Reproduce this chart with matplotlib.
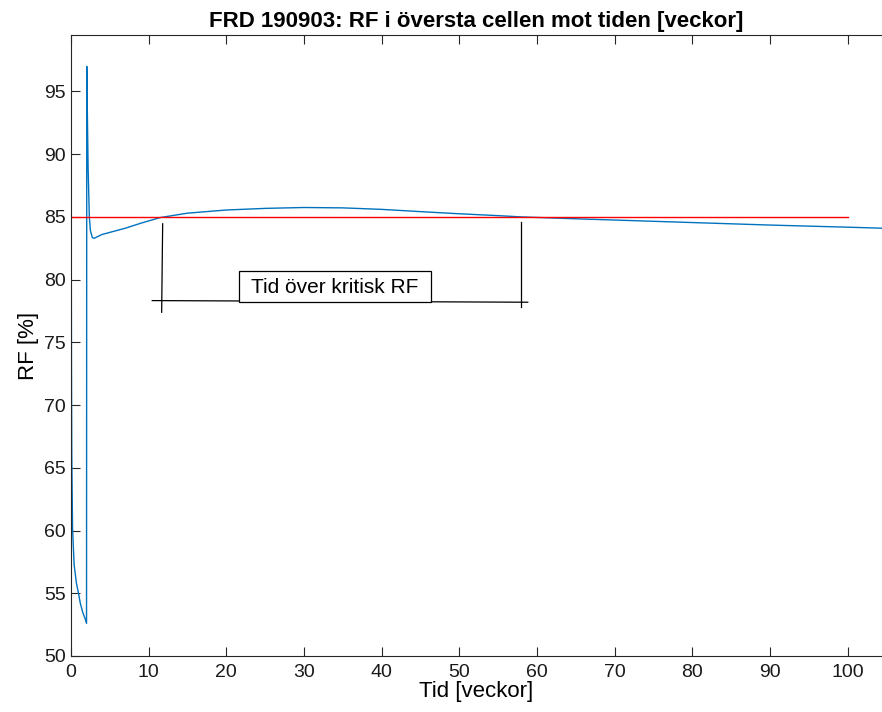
import numpy as np
import matplotlib
matplotlib.use("Agg")
import matplotlib.pyplot as plt
from matplotlib.patches import Rectangle

plt.rcParams['font.family'] = ['Liberation Sans', 'DejaVu Sans']

# RF in the top cell
tid = [0, 0.03, 0.06, 0.1, 0.2, 0.4, 0.7, 0.9, 1.2, 1.5, 1.8, 2.0,
       2.03, 2.1, 2.2, 2.36, 2.5, 2.75, 3.0, 4, 5.5, 7, 9, 11.5, 15, 20,
       25, 30, 35, 40, 45, 50, 55, 58, 65, 70, 80, 90, 100, 104.4]
rf = [96, 84, 73, 66, 60.2, 57.3, 55.8, 55.2, 54.2, 53.5, 53.0, 52.6,
      97, 93.5, 89, 85, 83.9, 83.35, 83.3, 83.6, 83.85, 84.1, 84.5, 84.95, 85.3, 85.55,
      85.68, 85.75, 85.72, 85.6, 85.42, 85.25, 85.1, 85.0, 84.85, 84.75, 84.55, 84.35, 84.18, 84.1]

kritisk_rf = 85
kritisk_x = [0, 100]

# annotation of the time above critical RF
vlinje_v = ([11.8, 11.67], [84.45, 77.4])
vlinje_h = ([57.9, 57.9], [84.6, 77.8])
hlinje = ([10.46, 58.8], [78.33, 78.2])
ruta = (21.6, 78.2, 24.75, 2.5)  # x, y, bredd, höjd
ruta_text = "Tid över kritisk RF"

fig = plt.figure(figsize=(8.82, 7.12), dpi=100)
ax = fig.add_axes([71/882, 56/712, 811/882, 621/712])

ax.plot(tid, rf, color='#0072BD', lw=1.0)
ax.plot(kritisk_x, [kritisk_rf, kritisk_rf], color='red', lw=1.0)

ax.plot(*vlinje_v, color='black', lw=0.9)
ax.plot(*vlinje_h, color='black', lw=0.9)
ax.plot(*hlinje, color='black', lw=0.9)
x0, y0, w, h = ruta
ax.add_patch(Rectangle((x0, y0), w, h, facecolor='white', edgecolor='black', lw=0.9, zorder=3))
ax.text(x0 + w / 2, y0 + h / 2 - 0.05, ruta_text, ha='center', va='center', fontsize=15, zorder=4)

ax.set_xlim(0, 104.4)
ax.set_ylim(50, 99.5)
ax.set_xticks(np.arange(0, 101, 10))
ax.set_yticks(np.arange(50, 96, 5))
ax.tick_params(direction='in', length=6.5, top=True, labelsize=14, colors='#262626', width=0.8)
ax.tick_params(axis='x', pad=6)
ax.tick_params(axis='both', labelcolor='#1a1a1a')
for s in ['left', 'top', 'bottom']:
    ax.spines[s].set_color('#262626')
    ax.spines[s].set_linewidth(0.8)
ax.spines['right'].set_visible(False)

ax.set_xlabel('Tid [veckor]', fontsize=16, labelpad=0)
ax.set_ylabel('RF [%]', fontsize=16, labelpad=4)
ax.set_title('FRD 190903: RF i översta cellen mot tiden [veckor]', fontsize=16, fontweight='bold', pad=6)

fig.savefig('out.png', dpi=100)
